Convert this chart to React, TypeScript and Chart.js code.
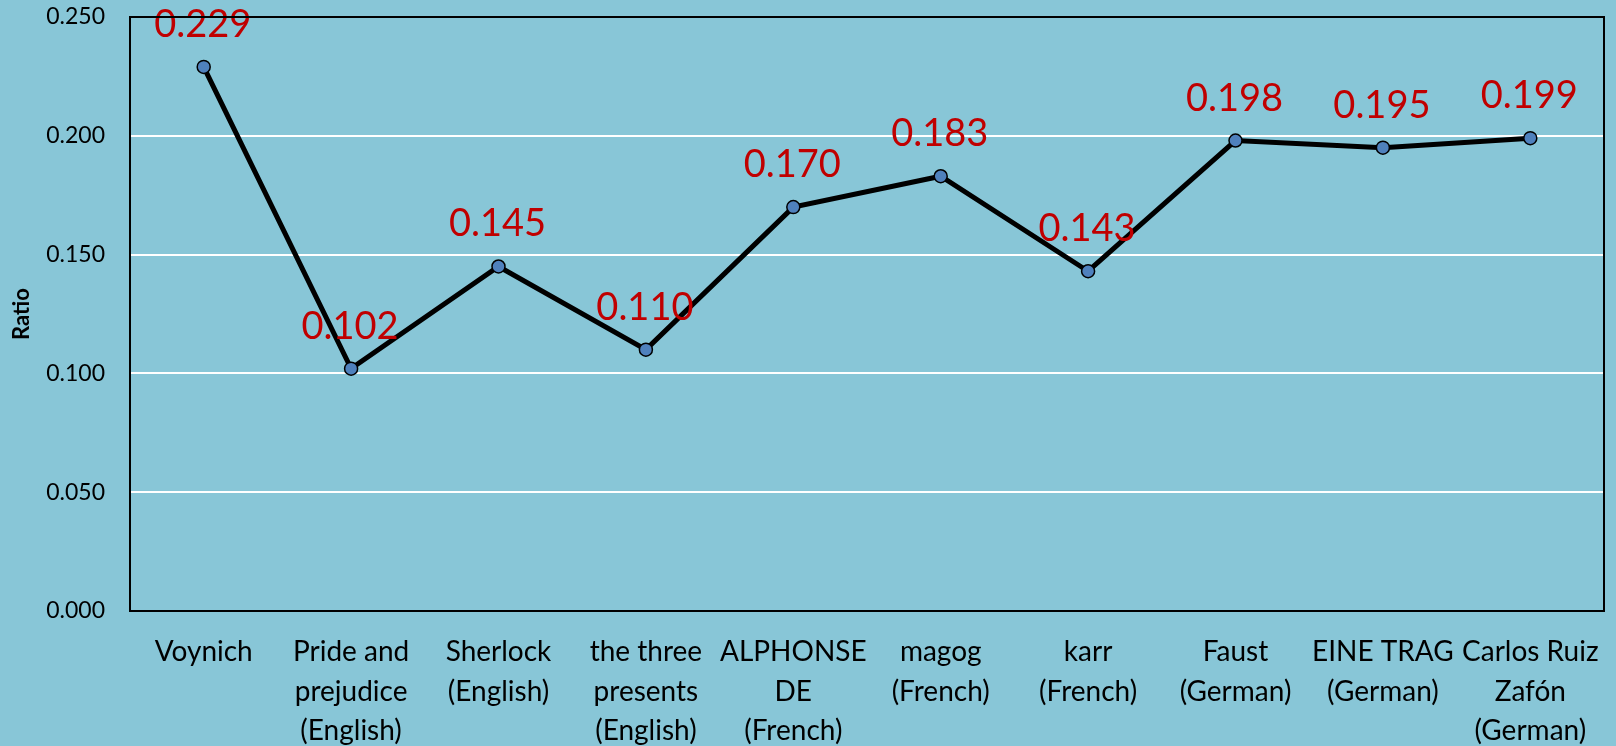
import React, { useEffect, useRef } from "react";
import { Chart, registerables } from "chart.js";

Chart.register(...registerables);

const categories: (string | string[])[] = [
  "Voynich",
  ["Pride and", "prejudice", "(English)"],
  ["Sherlock", "(English)"],
  ["the three", "presents", "(English)"],
  ["ALPHONSE", "DE", "(French)"],
  ["magog", "(French)"],
  ["karr", "(French)"],
  ["Faust", "(German)"],
  ["EINE TRAG", "(German)"],
  ["Carlos Ruiz", "Zafón", "(German)"],
];
const ratios = [0.229, 0.102, 0.145, 0.11, 0.17, 0.183, 0.143, 0.198, 0.195, 0.199];
const yTicks = [0, 0.05, 0.1, 0.15, 0.2, 0.25];

const BG = "#88C6D7";
const FONT = "Lato, 'Open Sans', sans-serif";

const framePlugin = {
  id: "frame",
  beforeDraw(chart: any) {
    const { ctx } = chart;
    ctx.save();
    ctx.fillStyle = BG;
    ctx.fillRect(0, 0, chart.width, chart.height);
    ctx.restore();
  },
  afterDraw(chart: any) {
    const { ctx, chartArea: a } = chart;
    ctx.save();
    ctx.strokeStyle = "#000";
    ctx.lineWidth = 2;
    ctx.strokeRect(a.left, a.top, a.right - a.left, a.bottom - a.top);
    ctx.restore();
  },
};

const labelPlugin = {
  id: "valueLabels",
  afterDatasetsDraw(chart: any) {
    const { ctx } = chart;
    const meta = chart.getDatasetMeta(0);
    ctx.save();
    ctx.fillStyle = "#C00000";
    ctx.font = `38px ${FONT}`;
    ctx.textAlign = "center";
    ctx.textBaseline = "alphabetic";
    meta.data.forEach((pt: any, i: number) => {
      ctx.fillText(ratios[i].toFixed(3), pt.x - 1, pt.y - 30);
    });
    ctx.restore();
  },
};

export default function App() {
  const ref = useRef<HTMLCanvasElement>(null);
  useEffect(() => {
    if (!ref.current) return;
    const chart = new Chart(ref.current, {
      type: "line",
      data: {
        labels: categories as any,
        datasets: [
          {
            data: ratios,
            borderColor: "#000",
            borderWidth: 5,
            pointRadius: 6.5,
            pointBackgroundColor: "#4F81BD",
            pointBorderColor: "#000",
            pointBorderWidth: 1.5,
            tension: 0,
          },
        ],
      },
      options: {
        responsive: false,
        animation: false,
        layout: { padding: { left: 0, top: 17, right: 12, bottom: 0 } },
        plugins: { legend: { display: false }, tooltip: { enabled: false } },
        scales: {
          x: {
            offset: true,
            grid: { display: false, drawTicks: false },
            border: { display: false },
            ticks: {
              autoSkip: false,
              maxRotation: 0,
              minRotation: 0,
              padding: 21,
              color: "#000",
              font: { family: FONT, size: 28, lineHeight: 1.42 },
            },
            afterFit: (s: any) => {
              s.height = 135;
              s.paddingLeft = 0;
              s.paddingRight = 0;
            },
          },
          y: {
            min: 0,
            max: 0.25,
            afterBuildTicks: (s: any) => {
              s.ticks = yTicks.map((v) => ({ value: v }));
            },
            grid: { color: "#FFFFFF", lineWidth: 2, drawTicks: false },
            border: { display: false },
            ticks: {
              padding: 25,
              color: "#000",
              font: { family: FONT, size: 23 },
              callback: (v: any) => Number(v).toFixed(3),
            },
            title: {
              display: true,
              text: "Ratio",
              color: "#000",
              font: { family: FONT, size: 22, weight: "bold" },
              padding: { top: 9, bottom: 0 },
            },
            afterFit: (s: any) => {
              s.width = 130;
              s.paddingTop = 0;
              s.paddingBottom = 0;
            },
          },
        },
      },
      plugins: [framePlugin, labelPlugin],
    });
    return () => chart.destroy();
  }, []);
  return (
    <div style={{ position: "fixed", left: 0, top: 0, width: 1616, height: 746, background: BG }}>
      <canvas ref={ref} width={1616} height={746} />
    </div>
  );
}
